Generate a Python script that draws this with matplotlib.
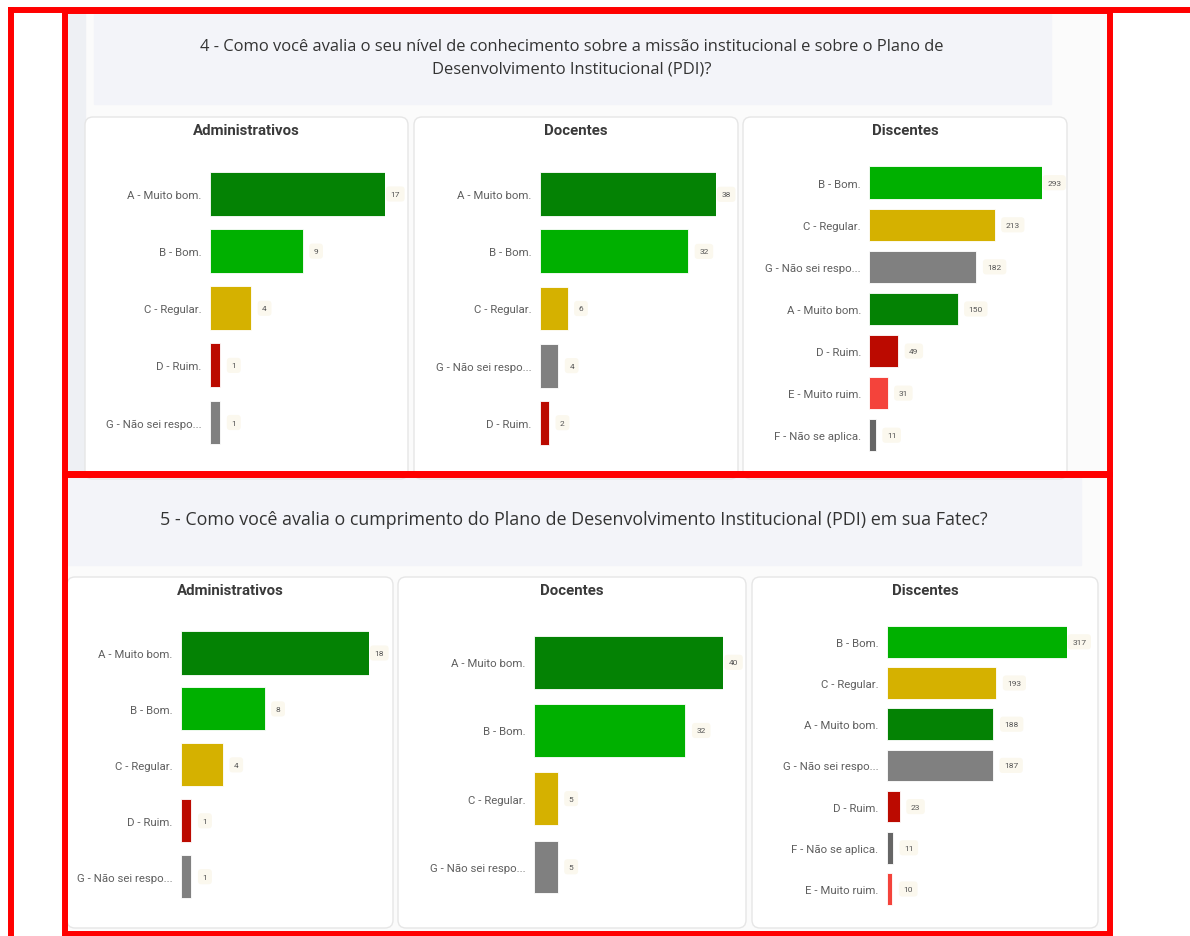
import matplotlib.pyplot as plt
from matplotlib.patches import FancyBboxPatch, Rectangle

W, H = 1190, 937

# question 4
q4_title = ("4 - Como você avalia o seu nível de conhecimento sobre a missão institucional e sobre o Plano de\n"
            "Desenvolvimento Institucional (PDI)?")
q4_adm_cats = ["A - Muito bom.", "B - Bom.", "C - Regular.", "D - Ruim.", "G - Não sei respo..."]
q4_adm_vals = [17, 9, 4, 1, 1]
q4_doc_cats = ["A - Muito bom.", "B - Bom.", "C - Regular.", "G - Não sei respo...", "D - Ruim."]
q4_doc_vals = [38, 32, 6, 4, 2]
q4_dis_cats = ["B - Bom.", "C - Regular.", "G - Não sei respo...", "A - Muito bom.",
               "D - Ruim.", "E - Muito ruim.", "F - Não se aplica."]
q4_dis_vals = [293, 213, 182, 150, 49, 31, 11]

# question 5
q5_title = "5 - Como você avalia o cumprimento do Plano de Desenvolvimento Institucional (PDI) em sua Fatec?"
q5_adm_cats = ["A - Muito bom.", "B - Bom.", "C - Regular.", "D - Ruim.", "G - Não sei respo..."]
q5_adm_vals = [18, 8, 4, 1, 1]
q5_doc_cats = ["A - Muito bom.", "B - Bom.", "C - Regular.", "G - Não sei respo..."]
q5_doc_vals = [40, 32, 5, 5]
q5_dis_cats = ["B - Bom.", "C - Regular.", "A - Muito bom.", "G - Não sei respo...",
               "D - Ruim.", "F - Não se aplica.", "E - Muito ruim."]
q5_dis_vals = [317, 193, 188, 187, 23, 11, 10]

groups = ["Administrativos", "Docentes", "Discentes"]

colors = {"A": "#048204", "B": "#00b000", "C": "#d5b100", "D": "#bb0a00",
          "E": "#f4433b", "F": "#666666", "G": "#808080"}


def px_axes(fig, x0, y0, x1, y1, **kw):
    return fig.add_axes([x0 / W, 1 - y1 / H, (x1 - x0) / W, (y1 - y0) / H], **kw)


fig = plt.figure(figsize=(W / 100, H / 100), dpi=100)
fig.patch.set_facecolor("white")

# background layer in pixel coordinates
bg = px_axes(fig, 0, 0, W, H)
bg.set_xlim(0, W)
bg.set_ylim(H, 0)
bg.axis("off")
bg.add_patch(Rectangle((66, 12), 1043, 924, color="#fbfbfb", zorder=0))
bg.add_patch(Rectangle((66, 14), 19, 460, color="#eef0f4", zorder=1))
bg.add_patch(Rectangle((94, 14), 957, 91, color="#f3f4f9", zorder=1))
bg.add_patch(Rectangle((66, 478), 1015, 88, color="#f3f4f9", zorder=1))
bg.text(572, 58, q4_title, ha="center", va="center", fontsize=11.9, color="#333333",
        family="Open Sans", linespacing=1.55)
bg.text(574, 520, q5_title, ha="center", va="center", fontsize=12.9, color="#333333",
        family="Open Sans")

cards = [(85, 118, 408, 480), (414, 118, 738, 480), (743, 118, 1067, 480),
         (67, 578, 393, 929), (398, 578, 746, 929), (752, 578, 1098, 929)]
for i, (x0, y0, x1, y1) in enumerate(cards):
    bg.add_patch(FancyBboxPatch((x0, y0), x1 - x0, y1 - y0,
                                boxstyle="round,pad=0,rounding_size=8",
                                fc="white", ec="#e6e6e6", lw=1, zorder=2))
    ty = 131 if i < 3 else 591
    bg.text((x0 + x1) / 2, ty, groups[i % 3], ha="center", va="center", fontsize=10.8,
            fontweight="bold", color="#3a3a3a", family="Roboto", zorder=3)

# bar panels: bar left, widest bar right, first and last bar centre (pixels)
panels = [
    (q4_adm_cats, q4_adm_vals, 210, 385, 195, 423.5),
    (q4_doc_cats, q4_doc_vals, 539.7, 716, 195.3, 423.7),
    (q4_dis_cats, q4_dis_vals, 869.3, 1041.7, 183.7, 436.2),
    (q5_adm_cats, q5_adm_vals, 181, 369, 654, 877.7),
    (q5_doc_cats, q5_doc_vals, 534, 723.3, 663.3, 867.8),
    (q5_dis_cats, q5_dis_vals, 886.7, 1066.7, 642.8, 890),
]

for cats, vals, bx0, bx1, c0, c1 in panels:
    n = len(vals)
    step = (c1 - c0) / (n - 1)
    ax = px_axes(fig, bx0, c0 - step / 2, bx1, c1 + step / 2)
    ax.patch.set_alpha(0)
    ypos = list(range(n))
    ax.barh(ypos, vals, height=0.77, color=[colors[c[0]] for c in cats],
            edgecolor="white", linewidth=0.6)
    ax.set_xlim(0, max(vals))
    ax.set_ylim(n - 0.5, -0.5)
    ax.set_yticks(ypos, cats)
    ax.tick_params(axis="y", length=0, pad=6, labelsize=8.2, labelcolor="#5f5f5f")
    for lab in ax.get_yticklabels():
        lab.set_family("Roboto")
    ax.set_xticks([])
    for s in ax.spines.values():
        s.set_visible(False)
    vmax = max(vals)
    for y, v in zip(ypos, vals):
        off = 4 if v == vmax else 8
        ax.annotate(str(v), (v, y), xytext=(off, 0), textcoords="offset points",
                    ha="left", va="center", fontsize=6, color="#555555",
                    family="Roboto", annotation_clip=False,
                    bbox=dict(boxstyle="round,pad=0.55,rounding_size=0.4",
                              fc="#fbf8ee", ec="none"))

# red frames on top
ov = px_axes(fig, 0, 0, W, H)
ov.set_xlim(0, W)
ov.set_ylim(H, 0)
ov.axis("off")
ov.patch.set_alpha(0)
red = "#ff0000"
lw = 4.3
ov.plot([8, W], [10.5, 10.5], color=red, lw=lw, solid_capstyle="butt")
ov.plot([10.5, 10.5], [8, H], color=red, lw=lw, solid_capstyle="butt")
ov.plot([65, 1109.5, 1109.5, 65, 65], [12, 12, 474.5, 474.5, 12], color=red, lw=lw,
        solid_joinstyle="miter")
ov.plot([65, 1109.5, 1109.5, 65, 65], [476, 476, 934.5, 934.5, 476], color=red, lw=lw,
        solid_joinstyle="miter")

fig.savefig("out.png", dpi=100, facecolor="white")
